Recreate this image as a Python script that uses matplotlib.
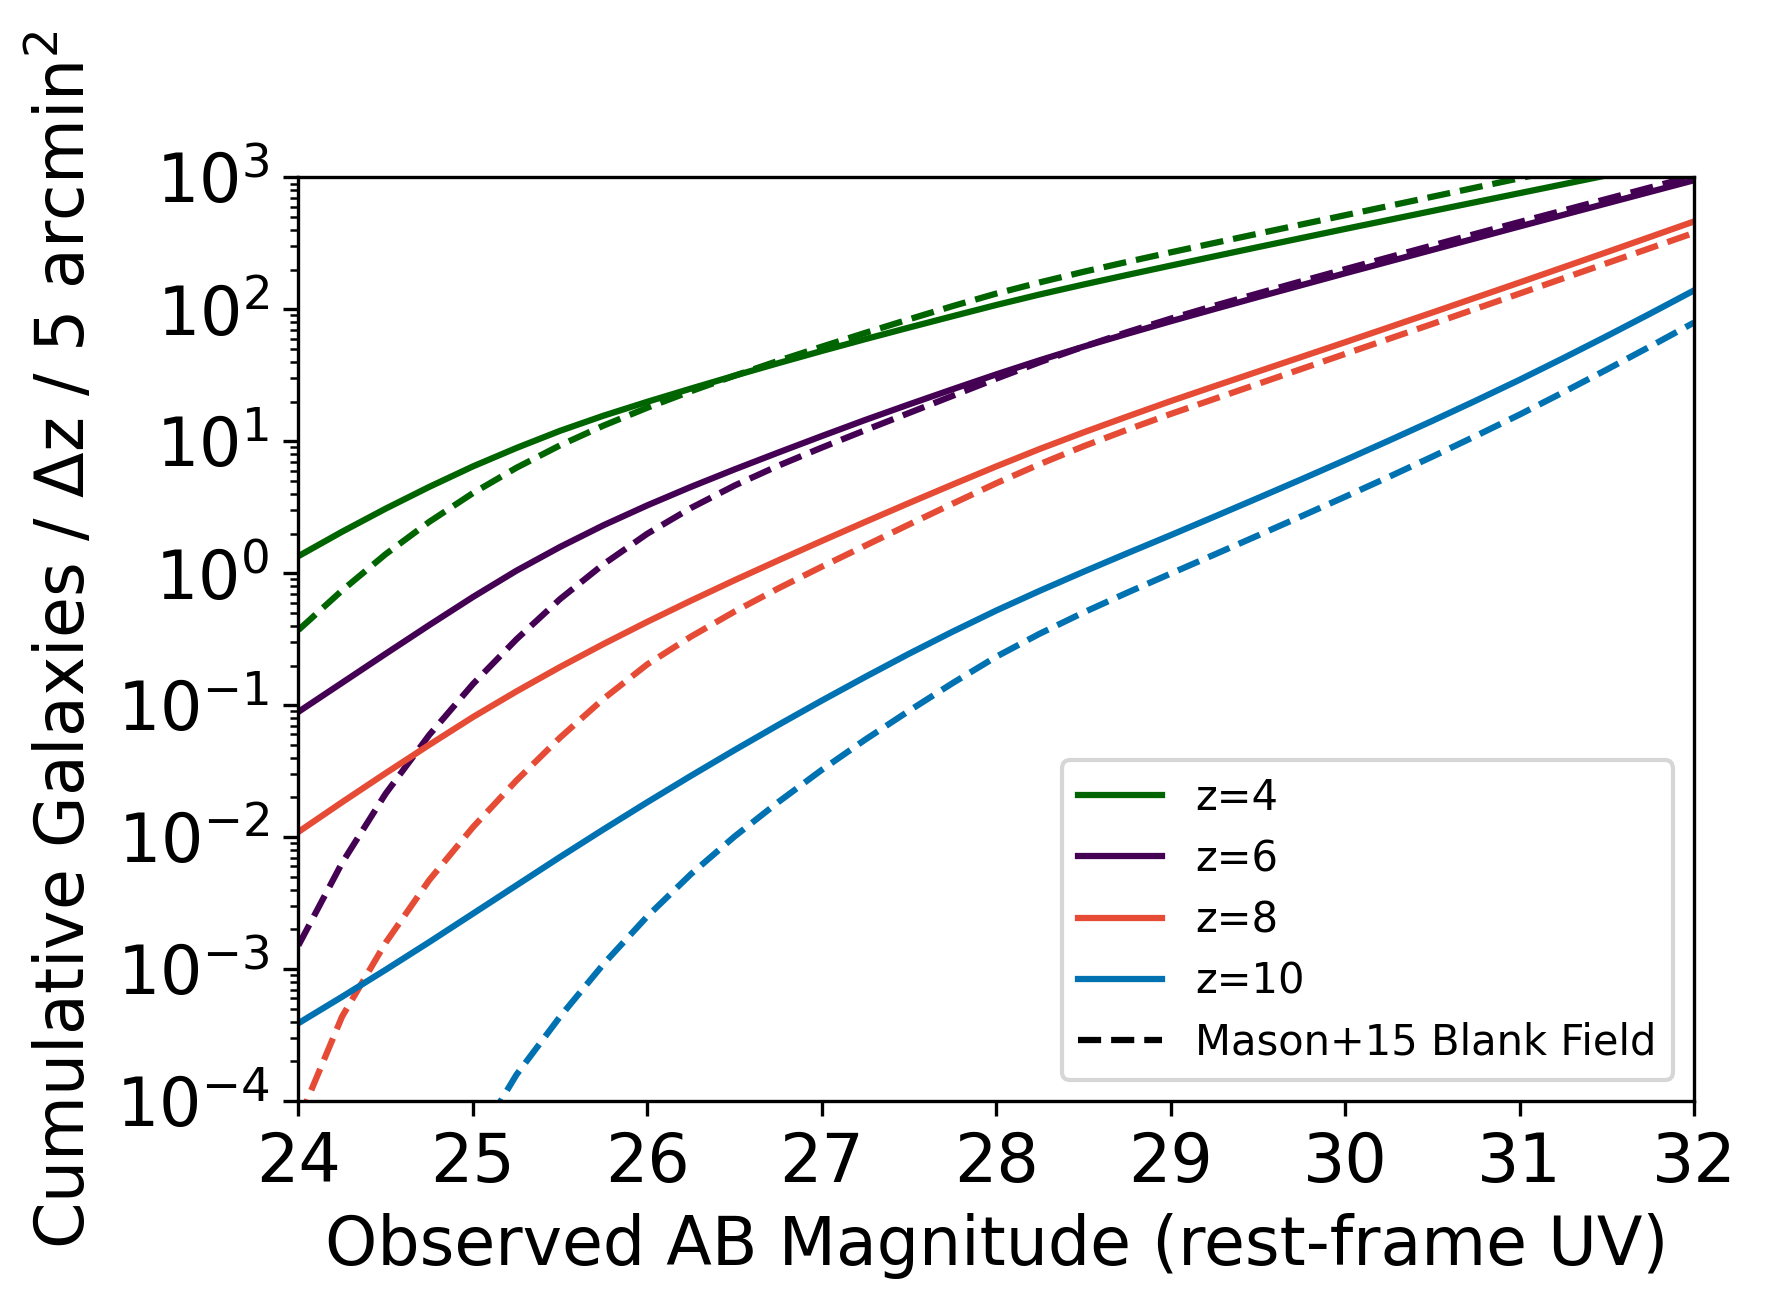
import numpy as np
import matplotlib
matplotlib.use("Agg")
import matplotlib.pyplot as plt
from matplotlib.ticker import MultipleLocator

# observed AB magnitude grid (quarter-magnitude steps)
mag = [24.0, 24.25, 24.5, 24.75, 25.0, 25.25, 25.5, 25.75,
       26.0, 26.25, 26.5, 26.75, 27.0, 27.25, 27.5, 27.75,
       28.0, 28.25, 28.5, 28.75, 29.0, 29.25, 29.5, 29.75,
       30.0, 30.25, 30.5, 30.75, 31.0, 31.25, 31.5, 31.75, 32.0]

# log10 cumulative counts (solid = model, dashed = Mason+15)
z4_solid = [0.13, 0.315, 0.49, 0.655, 0.81, 0.95, 1.08, 1.195,
            1.30, 1.40, 1.4975, 1.5925, 1.685, 1.775, 1.8625, 1.9485,
            2.0335, 2.1135, 2.1885, 2.261, 2.332, 2.402, 2.472, 2.541,
            2.61, 2.678, 2.746, 2.8135, 2.881, 2.9485, 3.016, 3.0835, 3.151]
z4_dash = [-0.43, -0.13, 0.145, 0.39, 0.6075, 0.80, 0.97, 1.12,
           1.255, 1.38, 1.4975, 1.61, 1.7175, 1.8225, 1.925, 2.025,
           2.12, 2.205, 2.285, 2.36, 2.4325, 2.5035, 2.574, 2.644,
           2.714, 2.784, 2.854, 2.924, 2.994, 3.064, 3.134, 3.204, 3.274]

z6_solid = [-1.05, -0.83, -0.61, -0.3925, -0.18, 0.02, 0.20, 0.365,
            0.515, 0.655, 0.7875, 0.915, 1.04, 1.1625, 1.28, 1.395,
            1.5075, 1.615, 1.7175, 1.815, 1.91, 2.0025, 2.0938, 2.1838,
            2.2738, 2.3625, 2.4513, 2.54, 2.6288, 2.7163, 2.8038, 2.8913, 2.9788]
z6_dash = [-2.82, -2.195, -1.67, -1.225, -0.84, -0.50, -0.195, 0.07,
           0.30, 0.495, 0.665, 0.815, 0.9525, 1.085, 1.215, 1.345,
           1.475, 1.60, 1.7175, 1.8275, 1.93, 2.0275, 2.121, 2.2135,
           2.3048, 2.3948, 2.4848, 2.5735, 2.6623, 2.7498, 2.8373, 2.9248, 3.0123]

z8_solid = [-1.96, -1.735, -1.515, -1.30, -1.09, -0.895, -0.71, -0.535,
            -0.3675, -0.2075, -0.0525, 0.0975, 0.245, 0.39, 0.5325, 0.6725,
            0.81, 0.9425, 1.0675, 1.1875, 1.305, 1.4175, 1.5288, 1.64,
            1.7513, 1.8638, 1.9763, 2.09, 2.2038, 2.3188, 2.4338, 2.55, 2.6663]
z8_dash = [-4.15, -3.36, -2.80, -2.325, -1.925, -1.57, -1.245, -0.95,
           -0.69, -0.48, -0.29, -0.115, 0.05, 0.21, 0.37, 0.5275,
           0.6825, 0.8275, 0.9625, 1.0875, 1.2075, 1.3213, 1.435, 1.5488,
           1.6625, 1.7763, 1.89, 2.005, 2.12, 2.235, 2.35, 2.465, 2.58]

z10_solid = [-3.41, -3.21, -3.005, -2.795, -2.58, -2.365, -2.15, -1.94,
             -1.735, -1.535, -1.34, -1.15, -0.965, -0.785, -0.61, -0.4425,
             -0.2825, -0.1325, 0.0113, 0.1513, 0.2888, 0.4288, 0.57, 0.7125,
             0.8575, 1.005, 1.155, 1.3088, 1.4663, 1.63, 1.7975, 1.9688, 2.1438]
z10_dash = [np.nan, np.nan, np.nan, np.nan, -4.35, -3.80, -3.36, -2.96,
            -2.60, -2.28, -1.995, -1.735, -1.49, -1.26, -1.0425, -0.8325,
            -0.6325, -0.4575, -0.2975, -0.1475, -0.0025, 0.1413, 0.2863, 0.4325,
            0.58, 0.73, 0.8838, 1.0413, 1.2025, 1.3713, 1.5438, 1.72, 1.90]

labels = ["z=4", "z=6", "z=8", "z=10"]
colors = ["#006400", "#440154", "#E64B35", "#0072B2"]
solids = [z4_solid, z6_solid, z8_solid, z10_solid]
dashes = [z4_dash, z6_dash, z8_dash, z10_dash]

fig = plt.figure(figsize=(1766 / 300, 1305 / 300), dpi=300)
ax = fig.add_axes([0.169, 0.1563, 0.9592 - 0.169, 0.864 - 0.1563])

for lab, col, s, d in zip(labels, colors, solids, dashes):
    ax.plot(mag, 10 ** np.array(s), color=col, lw=1.5, label=lab)
    ax.plot(mag, 10 ** np.array(d), color=col, lw=1.5, ls="--")

# legend entry for the blank-field curves
ax.plot([], [], color="black", ls="--", lw=1.5, label="Mason+15 Blank Field")

ax.set_yscale("log")
ax.set_xlim(24, 32)
ax.set_ylim(1e-4, 1e3)
ax.xaxis.set_major_locator(MultipleLocator(1))
ax.tick_params(axis="both", which="major", labelsize=16)
ax.set_xlabel("Observed AB Magnitude (rest-frame UV)", fontsize=16)
ax.set_ylabel("Cumulative Galaxies / \u0394z / 5 arcmin$^2$", fontsize=16)
ax.legend(loc="lower right", fontsize=10, labelspacing=0.46)

fig.savefig("out.png", dpi=300)
